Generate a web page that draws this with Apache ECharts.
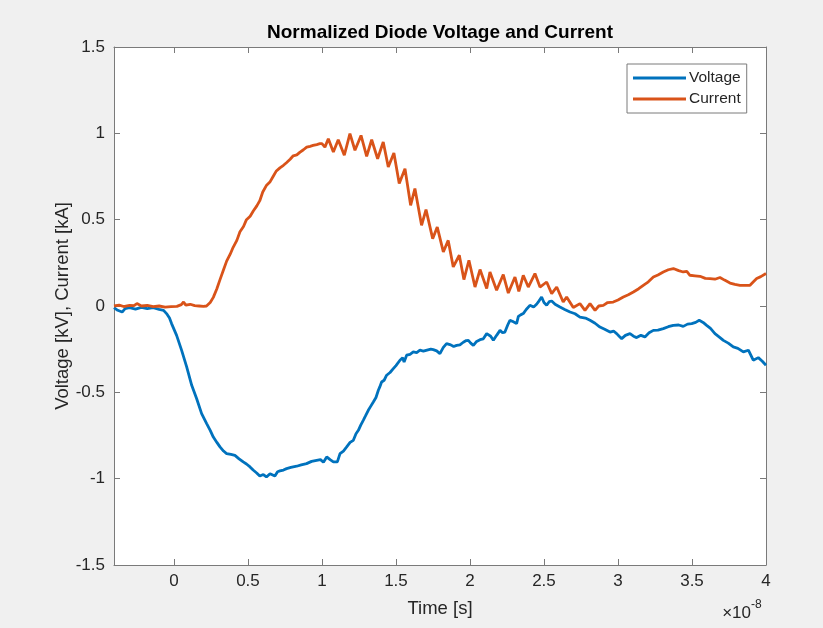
<!DOCTYPE html>
<html>
<head>
<meta charset="utf-8">
<title>Normalized Diode Voltage and Current</title>
<script src="https://cdn.jsdelivr.net/npm/echarts@6/dist/echarts.min.js"></script>
<style>
  html, body { margin: 0; padding: 0; background: #f0f0f0; }
  #chart { width: 823px; height: 628px; }
</style>
</head>
<body>
<div id="chart"></div>
<script>
// Time values are in units of 1e-8 s (the axis carries a ×10^-8 multiplier).
const voltageTime = [
  -0.405, -0.38, -0.35, -0.33, -0.30, -0.26, -0.22, -0.18, -0.14, -0.10, -0.07, -0.05, -0.03, -0.016,
  0.018, 0.052, 0.086, 0.12, 0.153, 0.187, 0.221, 0.245, 0.266, 0.29, 0.311, 0.335, 0.356, 0.385,
  0.412, 0.44, 0.468, 0.49, 0.514, 0.535, 0.559, 0.58, 0.604, 0.625, 0.649, 0.682, 0.70, 0.716,
  0.74, 0.761, 0.79, 0.829, 0.86, 0.896, 0.93, 0.964, 0.99, 1.01, 1.032, 1.055, 1.077, 1.104,
  1.122, 1.145, 1.167, 1.19, 1.212, 1.23, 1.246, 1.262, 1.279, 1.295, 1.313, 1.33, 1.347, 1.365,
  1.381, 1.39, 1.403, 1.42, 1.437, 1.46, 1.482, 1.50, 1.527, 1.545, 1.555, 1.572, 1.595, 1.617,
  1.64, 1.662, 1.685, 1.71, 1.735, 1.752, 1.775, 1.797, 1.82, 1.842, 1.87, 1.89, 1.91, 1.932,
  1.955, 1.975, 1.989, 2.005, 2.023, 2.045, 2.068, 2.09, 2.113, 2.124, 2.14, 2.158, 2.18, 2.203,
  2.22, 2.236, 2.255, 2.27, 2.29, 2.315, 2.327, 2.345, 2.36, 2.38, 2.405, 2.43, 2.45, 2.467,
  2.484, 2.50, 2.518, 2.535, 2.552, 2.575, 2.608, 2.64, 2.676, 2.71, 2.743, 2.78, 2.811, 2.845,
  2.878, 2.91, 2.946, 2.97, 2.991, 3.008, 3.025, 3.05, 3.081, 3.105, 3.126, 3.155, 3.182, 3.21,
  3.239, 3.27, 3.306, 3.34, 3.374, 3.41, 3.441, 3.47, 3.498, 3.525, 3.549, 3.575, 3.599, 3.625,
  3.655, 3.685, 3.712, 3.745, 3.779, 3.81, 3.847, 3.881, 3.914, 3.948, 3.975, 4.0
];
const voltageValue = [
  -0.010, -0.025, -0.035, -0.015, -0.010, -0.018, -0.008, -0.015, -0.010, -0.020, -0.025, -0.044, -0.070, -0.102,
  -0.170, -0.257, -0.353, -0.459, -0.536, -0.623, -0.681, -0.720, -0.759, -0.790, -0.816, -0.840, -0.855, -0.860,
  -0.865, -0.885, -0.903, -0.915, -0.932, -0.950, -0.967, -0.985, -0.976, -0.990, -0.971, -0.985, -0.960, -0.955,
  -0.950, -0.942, -0.935, -0.928, -0.920, -0.913, -0.900, -0.894, -0.890, -0.905, -0.874, -0.890, -0.903, -0.903,
  -0.855, -0.840, -0.816, -0.790, -0.778, -0.740, -0.720, -0.690, -0.662, -0.635, -0.604, -0.580, -0.556, -0.530,
  -0.488, -0.470, -0.440, -0.430, -0.401, -0.385, -0.363, -0.345, -0.314, -0.300, -0.325, -0.285, -0.280, -0.266,
  -0.270, -0.256, -0.261, -0.255, -0.250, -0.253, -0.260, -0.276, -0.240, -0.218, -0.225, -0.235, -0.228, -0.225,
  -0.210, -0.200, -0.199, -0.215, -0.228, -0.205, -0.195, -0.190, -0.160, -0.151, -0.175, -0.199, -0.170, -0.141,
  -0.155, -0.151, -0.110, -0.083, -0.090, -0.102, -0.060, -0.050, -0.044, -0.020, 0.004, -0.006, 0.010, 0.030,
  0.052, 0.020, 0.004, 0.025, 0.029, 0.010, -0.006, -0.020, -0.035, -0.045, -0.064, -0.070, -0.083, -0.100,
  -0.122, -0.135, -0.151, -0.145, -0.160, -0.175, -0.189, -0.170, -0.160, -0.175, -0.183, -0.170, -0.179, -0.155,
  -0.141, -0.140, -0.131, -0.120, -0.112, -0.110, -0.118, -0.105, -0.102, -0.095, -0.083, -0.095, -0.112, -0.130,
  -0.160, -0.180, -0.199, -0.215, -0.237, -0.245, -0.266, -0.256, -0.314, -0.299, -0.320, -0.343
];

const currentTime = [
  -0.405, -0.37, -0.34, -0.30, -0.27, -0.25, -0.22, -0.18, -0.14, -0.10, -0.06, -0.02, 0.02, 0.05,
  0.065, 0.08, 0.11, 0.14, 0.17, 0.20, 0.22, 0.245, 0.266, 0.29, 0.31, 0.335, 0.356, 0.38,
  0.40, 0.425, 0.446, 0.47, 0.49, 0.515, 0.536, 0.56, 0.58, 0.60, 0.626, 0.65, 0.67, 0.69,
  0.716, 0.74, 0.76, 0.785, 0.806, 0.83, 0.85, 0.875, 0.897, 0.92, 0.94, 0.965, 0.986, 1.0,
  1.02, 1.043, 1.077, 1.11, 1.151, 1.189, 1.223, 1.264, 1.302, 1.336, 1.376, 1.414, 1.448, 1.486,
  1.522, 1.561, 1.599, 1.628, 1.673, 1.703, 1.748, 1.779, 1.82, 1.853, 1.887, 1.928, 1.959, 1.993,
  2.034, 2.068, 2.113, 2.135, 2.18, 2.225, 2.259, 2.304, 2.33, 2.36, 2.394, 2.439, 2.473, 2.518,
  2.552, 2.586, 2.63, 2.653, 2.698, 2.743, 2.777, 2.811, 2.845, 2.87, 2.901, 2.93, 2.968, 3.0,
  3.036, 3.07, 3.104, 3.14, 3.171, 3.205, 3.239, 3.27, 3.306, 3.34, 3.374, 3.41, 3.441, 3.465,
  3.486, 3.52, 3.554, 3.59, 3.622, 3.655, 3.689, 3.72, 3.757, 3.79, 3.824, 3.86, 3.892, 3.915,
  3.937, 3.965, 4.0
];
const currentValue = [
  0.000, 0.005, -0.003, 0.004, 0.002, 0.014, 0.000, 0.003, -0.004, 0.000, -0.006, -0.004, -0.002, 0.008,
  0.023, 0.005, 0.010, 0.002, 0.000, -0.002, 0.000, 0.020, 0.050, 0.100, 0.150, 0.210, 0.260, 0.300,
  0.340, 0.380, 0.430, 0.460, 0.500, 0.520, 0.550, 0.580, 0.610, 0.660, 0.700, 0.720, 0.750, 0.780,
  0.800, 0.815, 0.830, 0.850, 0.870, 0.875, 0.890, 0.905, 0.920, 0.925, 0.930, 0.935, 0.940, 0.940,
  0.920, 0.969, 0.892, 0.963, 0.873, 0.998, 0.902, 0.988, 0.867, 0.963, 0.853, 0.950, 0.805, 0.886,
  0.709, 0.795, 0.583, 0.680, 0.467, 0.558, 0.390, 0.457, 0.313, 0.380, 0.226, 0.294, 0.153, 0.265,
  0.110, 0.211, 0.101, 0.197, 0.091, 0.182, 0.075, 0.168, 0.085, 0.178, 0.110, 0.188, 0.110, 0.139,
  0.072, 0.110, 0.023, 0.052, -0.009, 0.014, -0.025, 0.014, -0.025, 0.000, 0.004, 0.020, 0.023, 0.035,
  0.052, 0.065, 0.081, 0.100, 0.120, 0.140, 0.168, 0.180, 0.197, 0.210, 0.217, 0.205, 0.197, 0.200,
  0.178, 0.175, 0.172, 0.160, 0.159, 0.155, 0.165, 0.150, 0.133, 0.125, 0.120, 0.120, 0.120, 0.140,
  0.159, 0.170, 0.188
];

const timeTicks = [0, 0.5, 1, 1.5, 2, 2.5, 3, 3.5, 4];
const timeRange = [-0.405, 4];
const valueRange = [-1.5, 1.5];
const valueStep = 0.5;

const seriesNames = ['Voltage', 'Current'];
const seriesColors = ['#0072BD', '#D95319'];

const pair = (xs, ys) => xs.map((x, i) => [x, ys[i]]);

const FONT = '"Liberation Sans", Arial, Helvetica, sans-serif';
const INK = '#262626';
const FRAME = '#7a7a7a';

const tickStyle = { show: true, inside: true, length: 6, lineStyle: { color: FRAME, width: 1 } };

const chart = echarts.init(document.getElementById('chart'), null, { renderer: 'canvas' });

chart.setOption({
  backgroundColor: '#f0f0f0',
  animation: false,
  grid: {
    left: 114, top: 47, right: 57, bottom: 63,
    show: true, backgroundColor: '#ffffff', borderWidth: 0
  },
  legend: {
    data: seriesNames.map(n => ({ name: n, icon: 'rect' })),
    orient: 'vertical',
    left: 627, top: 64,
    padding: [6, 6, 6, 6],
    itemWidth: 53, itemHeight: 3, itemGap: 5,
    backgroundColor: '#ffffff',
    borderColor: FRAME, borderWidth: 1,
    textStyle: { fontFamily: FONT, fontSize: 15.5, color: INK, lineHeight: 16, padding: [0, 0, 0, -2] }
  },
  xAxis: [
    {
      type: 'value', position: 'bottom',
      min: timeRange[0], max: timeRange[1],
      name: 'Time [s]', nameLocation: 'middle', nameGap: 34, nameMoveOverlap: false,
      nameTextStyle: { fontFamily: FONT, fontSize: 18.5, color: INK },
      axisLine: { show: true, onZero: false, lineStyle: { color: FRAME, width: 1 } },
      axisTick: Object.assign({ customValues: timeTicks }, tickStyle),
      axisLabel: { customValues: timeTicks, margin: 8, fontFamily: FONT, fontSize: 17, color: INK },
      splitLine: { show: false }
    },
    {
      type: 'value', position: 'top',
      min: timeRange[0], max: timeRange[1],
      axisLine: { show: true, onZero: false, lineStyle: { color: FRAME, width: 1 } },
      axisTick: Object.assign({ customValues: timeTicks }, tickStyle),
      axisLabel: { show: false },
      splitLine: { show: false }
    }
  ],
  yAxis: [
    {
      type: 'value', position: 'left',
      min: valueRange[0], max: valueRange[1], interval: valueStep,
      name: 'Voltage [kV], Current [kA]', nameLocation: 'middle', nameGap: 42, nameRotate: 90,
      nameMoveOverlap: false,
      nameTextStyle: { fontFamily: FONT, fontSize: 18.5, color: INK },
      axisLine: { show: true, onZero: false, lineStyle: { color: FRAME, width: 1 } },
      axisTick: tickStyle,
      axisLabel: { margin: 9, fontFamily: FONT, fontSize: 17, color: INK },
      splitLine: { show: false }
    },
    {
      type: 'value', position: 'right',
      min: valueRange[0], max: valueRange[1], interval: valueStep,
      axisLine: { show: true, onZero: false, lineStyle: { color: FRAME, width: 1 } },
      axisTick: tickStyle,
      axisLabel: { show: false },
      splitLine: { show: false }
    }
  ],
  graphic: [
    {
      type: 'text', x: 440, y: 33,
      style: {
        text: 'Normalized Diode Voltage and Current',
        font: 'bold 19px ' + FONT, fill: '#000000',
        textAlign: 'center', textVerticalAlign: 'middle'
      }
    },
    {
      type: 'text', x: 751, y: 613,
      style: { text: '×10', font: '17px ' + FONT, fill: INK, textAlign: 'right', textVerticalAlign: 'middle' }
    },
    {
      type: 'text', x: 751, y: 605,
      style: { text: '-8', font: '12px ' + FONT, fill: INK, textAlign: 'left', textVerticalAlign: 'middle' }
    }
  ],
  series: [
    {
      name: seriesNames[0], type: 'line', xAxisIndex: 0, yAxisIndex: 0,
      data: pair(voltageTime, voltageValue),
      showSymbol: false, symbol: 'none',
      lineStyle: { color: seriesColors[0], width: 2.8 },
      itemStyle: { color: seriesColors[0] }
    },
    {
      name: seriesNames[1], type: 'line', xAxisIndex: 0, yAxisIndex: 0,
      data: pair(currentTime, currentValue),
      showSymbol: false, symbol: 'none',
      lineStyle: { color: seriesColors[1], width: 2.8 },
      itemStyle: { color: seriesColors[1] }
    }
  ]
});
</script>
</body>
</html>
